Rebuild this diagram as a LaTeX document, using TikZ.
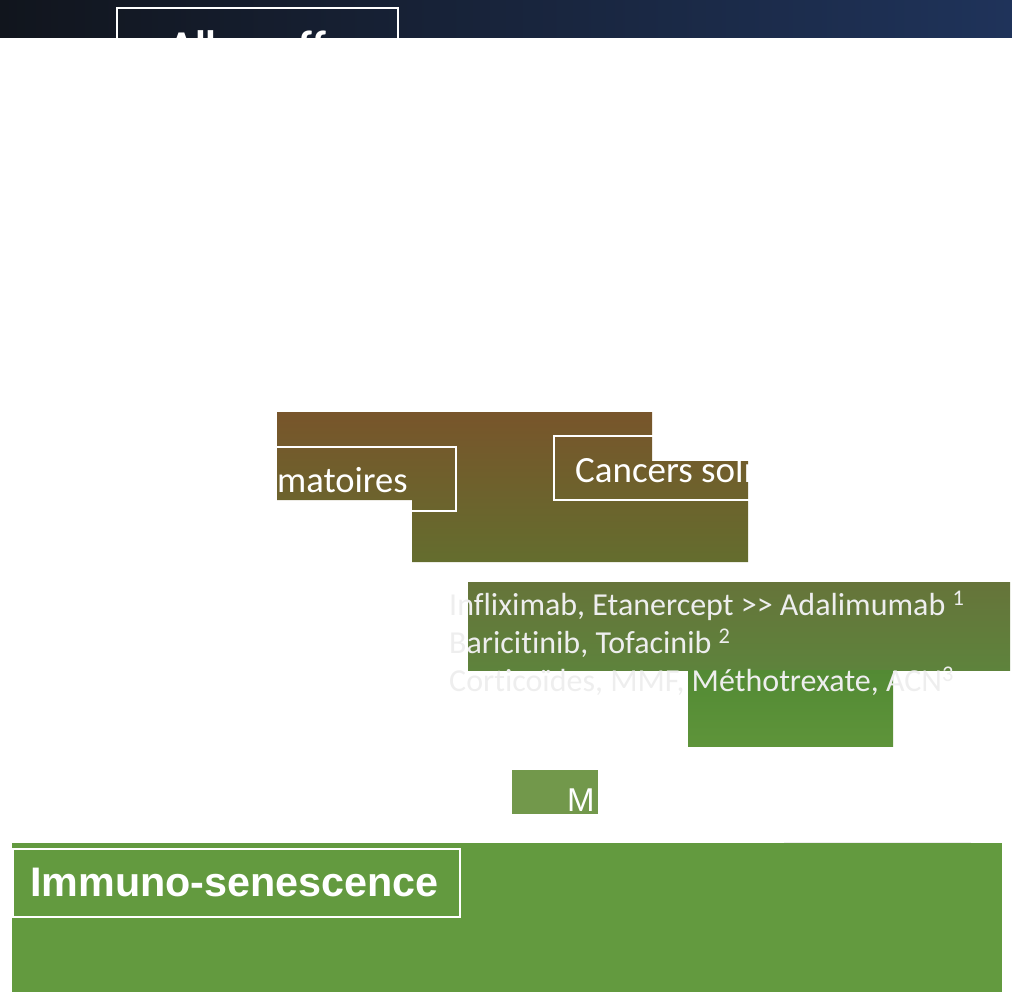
\documentclass[tikz,border=0pt]{standalone}
\usepackage{fontspec}
\setmainfont{Carlito}[Ligatures=CommonOff]
\newfontfamily\arialfont{Liberation Sans}
\usetikzlibrary{positioning}
\definecolor{nightL}  {HTML}{11151D}
\definecolor{nightR}  {HTML}{1F335A}
\definecolor{rustTop} {HTML}{78552B}
\definecolor{rustBot} {HTML}{646D2E}
\definecolor{oliveTop}{HTML}{66743A}
\definecolor{oliveBot}{HTML}{5E833C}
\definecolor{leafTop} {HTML}{538A34}
\definecolor{leafBot} {HTML}{5E943A}
\definecolor{moss}    {HTML}{72984B}
\definecolor{grass}   {HTML}{639A3F}
\definecolor{ghost}   {HTML}{EEEEEE}

\begin{document}
\begin{tikzpicture}[x=1pt,y=-1pt,
    frame/.style={draw=white,line width=1.6pt},
    label/.style={inner sep=0pt,anchor=base west,text=white}]
  \useasboundingbox (0,0) rectangle (1012,1002);

  % header band, cut at its foot
  \shade[left color=nightL,right color=nightR] (0,0) rectangle (1012,37);
  \begin{scope}
    \clip (0,0) rectangle (1012,37);
    \draw[frame] (117,8) rectangle (398,80);
    \node[label,anchor=base,font=\fontsize{44}{50}\selectfont\bfseries] (allo) at (258,61) {Allogreffe};
  \end{scope}

  % brown block
  \shade[top color=rustTop,bottom color=rustBot]
    (277,412) -- (652,412) -- (652,461) -- (748,461) -- (748,562)
    -- (412,562) -- (412,500) -- (277,500) -- cycle;
  \draw[frame] (150,447) rectangle (456,511);
  \draw[frame] (554,436) rectangle (860,500);
  \node[label,font=\fontsize{36.5}{43}\selectfont] (inflam) at (277,492) {matoires};
  \begin{scope}
    \clip (0,0) rectangle (748,1002);
    \node[label,font=\fontsize{37}{43}\selectfont] (cancer) at (575,482) {Cancers solides};
  \end{scope}

  % drugs
  \shade[top color=oliveTop,bottom color=oliveBot] (468,582) rectangle (1010,670);
  \shade[top color=leafTop,bottom color=leafBot] (688,670) rectangle (893,746);
  \foreach \n/\y/\t in {drugA/615/{Infliximab, Etanercept >{}> Adalimumab \textsuperscript{1}},
                        drugB/653/{Baricitinib, Tofacinib \textsuperscript{2}},
                        drugC/691/{Corticoïdes, MMF, Méthotrexate, ACN\textsuperscript{3}}}{
    \node[label,text=ghost,font=\fontsize{32}{38}\selectfont] (\n) at (449,\y) {\t};}

  \fill[moss] (512,770) rectangle (598,814);
  \node[label,font=\arialfont\fontsize{33}{38}\selectfont] (mtag) at (567,811) {M};

  % bottom band
  \fill[grass] (12,843) rectangle (1002,992);
  \draw[ghost,line width=1.5pt] (784,842.3) -- (971,842.3);
  \draw[frame] (13,849) rectangle (460,917);
  \node[label,font=\arialfont\bfseries\fontsize{41.3}{48}\selectfont] (immuno) at (30,896) {Immuno-senescence};
\end{tikzpicture}
\end{document}
